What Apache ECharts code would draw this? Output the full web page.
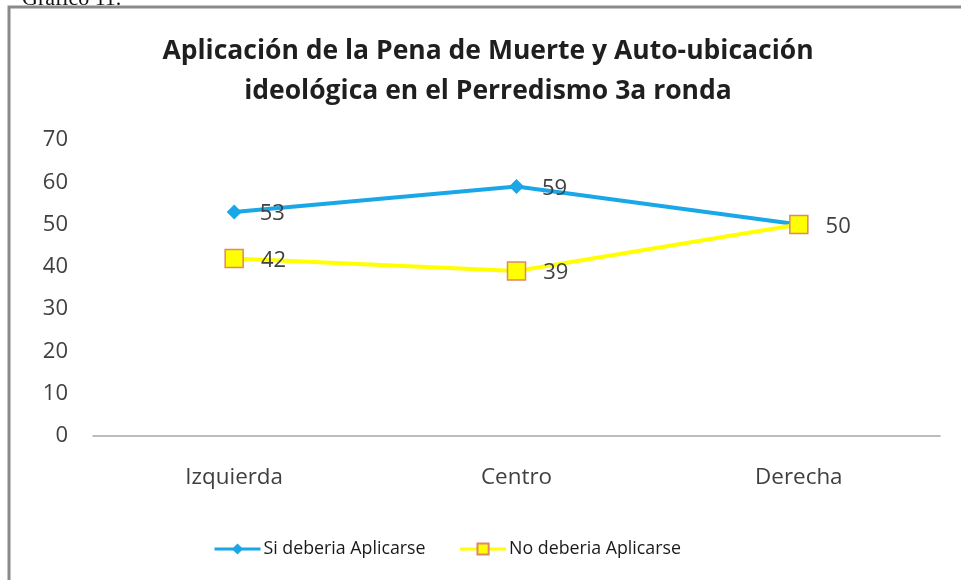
<!DOCTYPE html>
<html lang="es">
<head>
    <meta charset="UTF-8">
    <title>Pena de Muerte - Perredismo 3a ronda</title>
    <script src="https://cdn.jsdelivr.net/npm/echarts@6/dist/echarts.min.js"></script>
    <style>
        body, html {
            margin: 0;
            height: 100%;
            background: #fff;
        }

        #chart {
            width: 961px;
            height: 580px;
        }
    </style>
</head>
<body>
<div id="chart"></div>
<script>
    const categorias = ['Izquierda', 'Centro', 'Derecha'];
    const siDeberia = [53, 59, 50];
    const noDeberia = [42, 39, 50];
    const ticksY = [0, 10, 20, 30, 40, 50, 60, 70];

    const chart = echarts.init(document.getElementById('chart'));

    const fuente = 'Open Sans';
    const gris = '#404040';

    // en Derecha las dos series valen 50, solo se ve una etiqueta
    const datosSi = siDeberia.map((v, i) => ({
        value: v,
        label: {show: !(v === noDeberia[i])}
    }));

    const option = {
        animation: false,
        backgroundColor: '#fff',
        title: {
            text: 'Aplicación de la Pena de Muerte y Auto-ubicación\nideológica en el Perredismo 3a ronda',
            left: 483,
            textAlign: 'center',
            top: 26,
            textStyle: {
                fontFamily: fuente,
                fontSize: 26.5,
                fontWeight: 'bold',
                color: '#1f1f1f',
                lineHeight: 40
            }
        },
        graphic: [
            {
                type: 'text',
                left: 22,
                top: -12,
                style: {text: 'Gráfico 11.', font: '22px "Liberation Serif"', fill: '#111'}
            },
            {
                type: 'rect',
                shape: {x: 9, y: 7, width: 1000, height: 620},
                style: {fill: 'none', stroke: '#8a8a8a', lineWidth: 3}
            }
        ],
        legend: {
            top: 535,
            left: 208,
            itemGap: 33,
            itemWidth: 46,
            itemHeight: 14,
            lineStyle: {width: 3},
            textStyle: {fontFamily: fuente, fontSize: 17.8, color: '#1a1a1a', padding: [0, 0, 0, -2]},
            data: ['Si deberia Aplicarse', 'No deberia Aplicarse']
        },
        grid: {left: 93, right: 21, top: 140, bottom: 144},
        xAxis: {
            type: 'category',
            data: categorias,
            boundaryGap: true,
            axisLine: {lineStyle: {color: '#a6a6a6', width: 1.5}},
            axisTick: {show: false},
            axisLabel: {margin: 31, fontFamily: fuente, fontSize: 22.4, color: gris}
        },
        yAxis: {
            type: 'value',
            min: ticksY[0],
            max: ticksY[ticksY.length - 1],
            interval: 10,
            axisLine: {show: false},
            axisTick: {show: false},
            splitLine: {show: false},
            axisLabel: {margin: 25, fontFamily: fuente, fontSize: 22, color: gris}
        },
        series: [
            {
                name: 'Si deberia Aplicarse',
                type: 'line',
                data: datosSi,
                symbol: 'diamond',
                symbolSize: 15,
                itemStyle: {color: '#1aa7e8'},
                lineStyle: {color: '#1aa7e8', width: 4},
                label: {
                    show: true, position: 'right', distance: 18, offset: [0, 2],
                    fontFamily: fuente, fontSize: 22, color: gris
                }
            },
            {
                name: 'No deberia Aplicarse',
                type: 'line',
                data: noDeberia,
                symbol: 'rect',
                symbolSize: 18,
                itemStyle: {color: '#ffff00', borderColor: '#e0866b', borderWidth: 1.5},
                lineStyle: {color: '#ffff00', width: 4},
                label: {
                    show: true, position: 'right', distance: 17, offset: [0, 2],
                    fontFamily: fuente, fontSize: 22, color: gris
                }
            }
        ]
    };

    chart.setOption(option);
</script>
</body>
</html>
